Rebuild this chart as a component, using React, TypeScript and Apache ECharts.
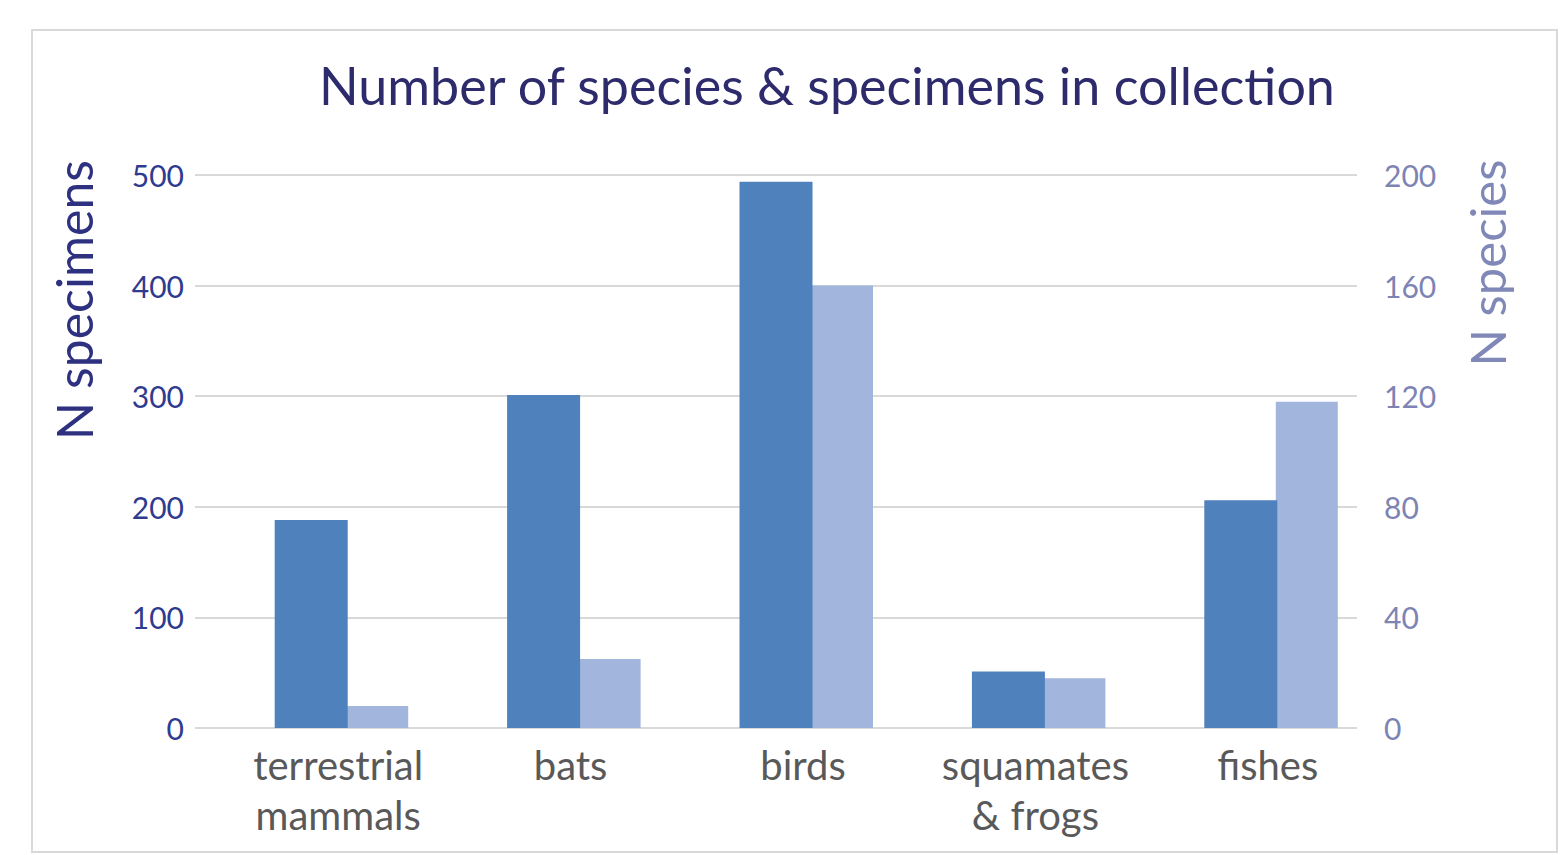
import React, { useEffect, useRef } from "react";
import * as echarts from "echarts";

const categories = ["terrestrial\nmammals", "bats", "birds", "squamates\n& frogs", "fishes"];
const specimens = [188, 301, 494, 51, 206];
const species = [8, 25, 160, 18, 118];

const FONT = "Lato";

export default function App() {
  const ref = useRef<HTMLDivElement>(null);
  useEffect(() => {
    const chart = echarts.init(ref.current!, null, { renderer: "svg" });
    chart.setOption({
      animation: false,
      backgroundColor: "#ffffff",
      textStyle: { fontFamily: FONT },
      grid: [
        { left: 195, right: 203, top: 175, bottom: 127 },
        { left: 261, right: 137, top: 175, bottom: 127 },
      ],
      xAxis: [
        {
          type: "category",
          gridIndex: 0,
          data: categories,
          axisLine: { show: false },
          axisTick: { show: false },
          axisLabel: {
            color: "#595959",
            fontSize: 40,
            lineHeight: 50,
            margin: 12,
            padding: [0, 0, 0, 54],
            fontFamily: FONT,
            interval: 0,
          },
        },
        { type: "category", gridIndex: 1, data: categories, show: false },
      ],
      yAxis: [
        {
          type: "value",
          gridIndex: 0,
          position: "left",
          min: 0,
          max: 500,
          interval: 100,
          axisLine: { show: false },
          axisTick: { show: false },
          axisLabel: { color: "#2f3b8f", fontSize: 30, margin: 11, fontFamily: FONT },
          splitLine: { lineStyle: { color: "#d9d9d9", width: 2 } },
        },
        {
          type: "value",
          gridIndex: 0,
          position: "right",
          min: 0,
          max: 200,
          interval: 40,
          axisLine: { show: false },
          axisTick: { show: false },
          axisLabel: { color: "#7d84b4", fontSize: 30, margin: 27, fontFamily: FONT },
          splitLine: { show: false },
        },
        { type: "value", gridIndex: 1, min: 0, max: 200, show: false },
      ],
      series: [
        {
          name: "N species",
          type: "bar",
          xAxisIndex: 1,
          yAxisIndex: 2,
          data: species,
          barWidth: 62,
          itemStyle: { color: "#a2b5dc" },
          z: 2,
        },
        {
          name: "N specimens",
          type: "bar",
          xAxisIndex: 0,
          yAxisIndex: 0,
          data: specimens,
          barWidth: 73,
          itemStyle: { color: "#4f81bd" },
          z: 3,
        },
      ],
      graphic: [
        {
          type: "rect",
          shape: { x: 32, y: 30, width: 1525, height: 822 },
          style: { fill: "none", stroke: "#d9d9d9", lineWidth: 2 },
          z: 0,
        },
        {
          type: "text",
          x: 827,
          y: 85,
          style: {
            text: "Number of species & specimens in collection",
            fontSize: 52,
            fontFamily: FONT,
            fill: "#2d2b6b",
            align: "center",
            verticalAlign: "middle",
          },
        },
        {
          type: "text",
          x: 74,
          y: 300,
          rotation: Math.PI / 2,
          style: {
            text: "N specimens",
            fontSize: 50,
            fontFamily: FONT,
            fill: "#2e3080",
            align: "center",
            verticalAlign: "middle",
          },
        },
        {
          type: "text",
          x: 1487,
          y: 263,
          rotation: Math.PI / 2,
          style: {
            text: "N species",
            fontSize: 49,
            fontFamily: FONT,
            fill: "#8088b8",
            align: "center",
            verticalAlign: "middle",
          },
        },
      ],
    });
    return () => chart.dispose();
  }, []);
  return (
    <div
      ref={ref}
      style={{ position: "fixed", left: 0, top: 0, width: 1560, height: 855 }}
    />
  );
}
